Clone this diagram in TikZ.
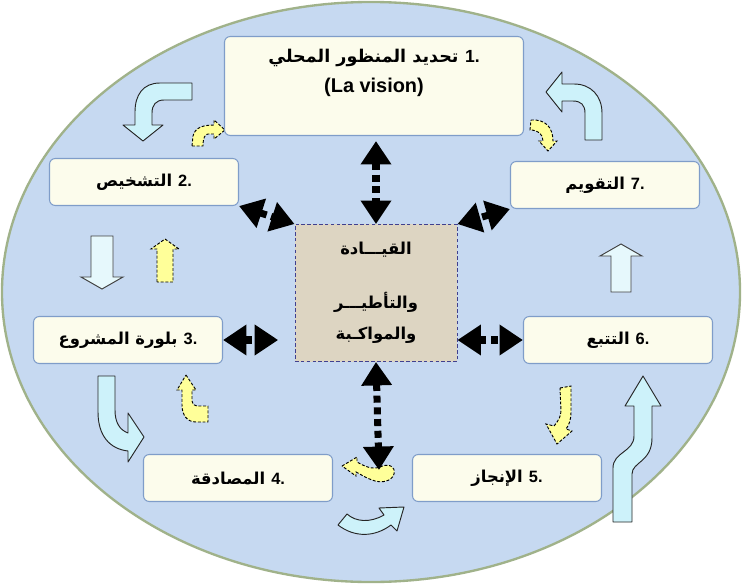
\documentclass[tikz,border=0pt]{standalone}
\usepackage{fontspec}
\setmainfont{Liberation Sans}
\newfontfamily\arabicfont[Script=Arabic]{DejaVu Sans}
\TeXXeTstate=1
\usetikzlibrary{arrows.meta, calc}
\definecolor{rim}{RGB}{160,178,138}
\definecolor{sky}{RGB}{198,217,241}
\definecolor{ivory}{RGB}{252,252,236}
\definecolor{boxline}{RGB}{127,157,201}
\definecolor{tan}{RGB}{221,213,194}
\definecolor{hubline}{RGB}{64,64,143}
\definecolor{aqua}{RGB}{205,242,250}
\definecolor{pale}{RGB}{230,248,252}
\definecolor{lemon}{RGB}{255,255,153}

\begin{document}
\begin{tikzpicture}[
    x=0.03cm, y=-0.03cm,
    every node/.style={font=\bfseries\fontsize{14}{27}\selectfont, align=center},
    box/.style={draw=boxline, fill=ivory, rounded corners=5pt, line width=0.9pt, minimum width=5.67cm, minimum height=1.41cm},
    hub/.style={draw=hubline, fill=tan, dash pattern=on 3pt off 2pt, line width=0.8pt, minimum width=4.86cm, minimum height=4.11cm},
    bigarrow/.style={draw=black!85, fill=aqua, line width=0.8pt, line join=round},
    flatarrow/.style={draw=black!75, fill=pale, line width=0.8pt},
    backarrow/.style={draw=black, fill=lemon, dash pattern=on 2.5pt off 1.5pt, line width=0.8pt},
    link/.style={line width=6pt, dash pattern=on 6pt off 4pt,
        {Triangle[width=25pt,length=20pt]}-{Triangle[width=25pt,length=20pt]}}
]
    % background
    \fill[white] (0,0) rectangle (743,585);
    \useasboundingbox (0,0) rectangle (743,585);
    \draw[rim, fill=sky, line width=2pt] (371,292) ellipse [x radius=11.07cm, y radius=8.7cm];

    % Forward arrows (cycle)
    \draw[bigarrow] (192,83) -- (160,83) .. controls (143,83) and (135,95) .. (135,112) -- (135,125) -- (123,125) -- (143,141) -- (163,125) -- (152,125) -- (152,113) .. controls (152,105) and (156,100) .. (164,100) -- (192,100) -- cycle;
    \draw[flatarrow] (91,236) -- (113,236) -- (113,277) -- (123,277) -- (102,289) -- (81,277) -- (91,277) -- cycle;
    \draw[bigarrow] (115,376) -- (98,376) -- (98,412) .. controls (98,436) and (110,449) .. (128,451) -- (128,462) -- (144,437) -- (128,413) -- (128,433) .. controls (120,430) and (115,423) .. (115,410) -- cycle;
    \draw[bigarrow] (338,525) -- (347,514) .. controls (356,522) and (370,523) .. (384,515) -- (379,508) -- (404,507) -- (397,531) -- (391,525) .. controls (375,537) and (355,538) .. (338,525) -- cycle;
    \draw[bigarrow] (613,522) -- (613,468) .. controls (613,452) and (634,452) .. (634,436) -- (634,406) -- (625,406) -- (643,376) -- (661,406) -- (652,406) -- (652,438) .. controls (652,462) and (632,462) .. (632,474) -- (632,522) -- cycle;
    \draw[flatarrow] (611,292) -- (611,256) -- (600,256) -- (621,244) -- (642,256) -- (631,256) -- (631,292) -- cycle;
    \draw[bigarrow] (585,140) -- (585,113) .. controls (585,105) and (581,101) .. (573,101) -- (562,101) -- (562,112) -- (546,92) -- (562,72) -- (562,84) -- (574,84) .. controls (591,84) and (602,96) .. (602,113) -- (602,140) -- cycle;

    % Backward arrows (feedback)
    \draw[backarrow] (192,146) -- (193,136) .. controls (195,128) and (202,125) .. (214,125) -- (214,120) -- (225,130) -- (214,139) -- (214,134) -- (208,134) .. controls (205,134) and (203,138) .. (203,146) -- cycle;
    \draw[backarrow] (531,120) .. controls (545,119) and (553,127) .. (553,141) -- (557,141) -- (548,151) -- (539,141) -- (543,141) .. controls (543,134) and (538,130) .. (530,130) -- cycle;
    \draw[backarrow] (157,282) -- (157,249) -- (151,249) -- (165,239) -- (179,249) -- (173,249) -- (173,282) -- cycle;
    \draw[backarrow] (186,375) -- (196,390) -- (192,390) -- (192,401) .. controls (192,404) and (194,406) .. (197,406) -- (208,406) -- (208,422) -- (196,422) .. controls (187,422) and (182,415) .. (182,405) -- (182,390) -- (177,390) -- cycle;
    \draw[backarrow] (560,388) -- (571,386) -- (571,412) .. controls (571,420) and (569,425) .. (566,429) -- (572,431) -- (557,444) -- (546,424) -- (554,426) .. controls (559,420) and (561,416) .. (561,410) -- cycle;
    \draw[backarrow] (342,466) -- (357,457) -- (357,462) .. controls (364,466) and (372,470) .. (380,467) .. controls (388,463) and (396,466) .. (394,474) .. controls (392,481) and (382,484) .. (372,480) .. controls (366,478) and (360,474) .. (356,472) -- (356,476) -- cycle;

    % Steps
    \node[box, minimum width=8.97cm, minimum height=2.97cm] (b1) at (374,86) {};
    \node[font=\bfseries\fontsize{15}{25}\selectfont] (b1t) at (374,73)
        {\beginR\beginL 1.\endL{} {\arabicfont تحديد المنظور المحلي}\endR\\{\fontsize{17}{25}\selectfont(La vision)}};
    \node[box] (b2) at (144,182) {\beginR\beginL 2.\endL{} {\arabicfont التشخيص}\endR};
    \node[box] (b3) at (128,340) {\beginR\beginL 3.\endL{} {\arabicfont بلورة المشروع}\endR};
    \node[box] (b4) at (238,478) {\beginR\beginL 4.\endL{} {\arabicfont المصادقة}\endR};
    \node[box] (b5) at (507,478) {\beginR\beginL 5.\endL{} {\arabicfont الإنجاز}\endR};
    \node[box] (b6) at (618,340) {\beginR\beginL 6.\endL{} {\arabicfont التتبع}\endR};
    \node[box] (b7) at (605,185) {\beginR\beginL 7.\endL{} {\arabicfont التقويم}\endR};

    % Centre
    \node[hub] (cbox) at (376,293) {\arabicfont\beginR القيـــادة\endR\\[19pt]
        \arabicfont\beginR والتأطيـــر\endR\\ \arabicfont\beginR والمواكـبة\endR};
    \coordinate (dn) at (379,470);

    % Links to the centre
    \draw[link] ($(cbox.north |- b1.south)+(0,5)$) -- (cbox.north);
    \draw[link] (cbox.south) -- (dn);
    \draw[link] (b2.south east) -- (cbox.north west);
    \draw[link] (b7.south west) -- (cbox.north east);
    \draw[link, shorten >=14pt] (b3.east) -- (b3.east -| cbox.west);
    \draw[link] (b6.west -| cbox.east) -- (b6.west);
\end{tikzpicture}
\end{document}
